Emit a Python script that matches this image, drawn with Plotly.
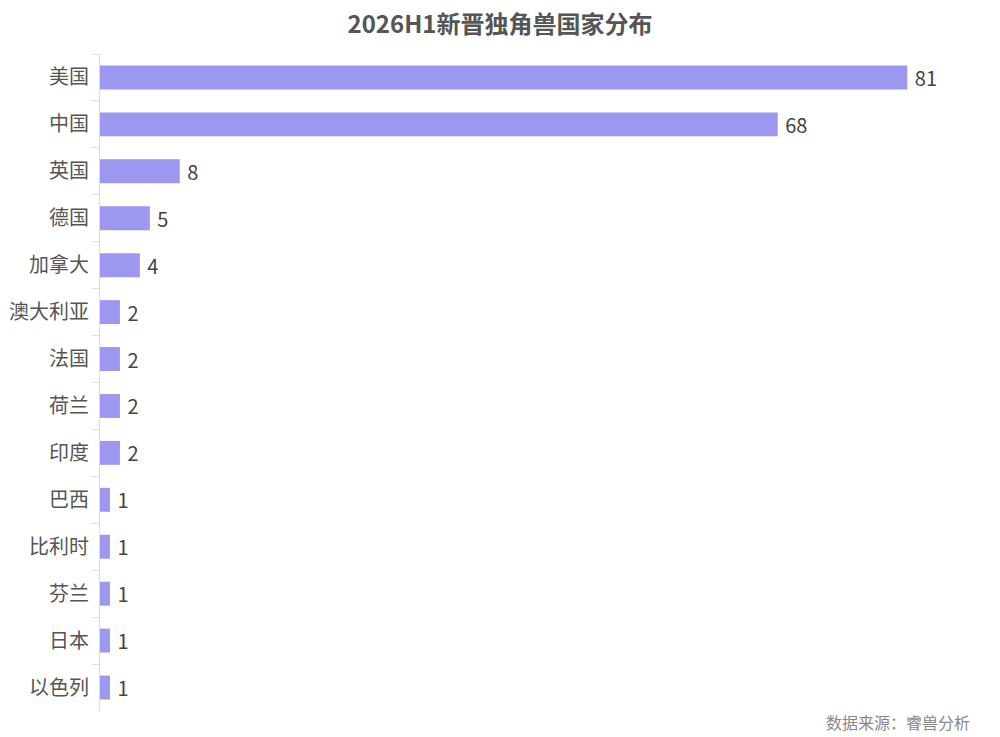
import plotly.graph_objects as go

countries = ["美国", "中国", "英国", "德国", "加拿大", "澳大利亚", "法国", "荷兰", "印度",
             "巴西", "比利时", "芬兰", "日本", "以色列"]
counts = [81, 68, 8, 5, 4, 2, 2, 2, 2, 1, 1, 1, 1, 1]

FONT = "Noto Sans CJK SC"
W, H = 992, 729  # page has an 8px body margin

fig = go.Figure(go.Bar(
    x=counts, y=countries, orientation="h",
    marker=dict(color="#9e97f0", line=dict(width=0)),
    width=0.51,
    texttemplate=" %{x}", textposition="outside", constraintext="none",
    textfont=dict(size=20, color="#444", family=FONT),
    cliponaxis=False,
))

fig.update_layout(
    width=W, height=H,
    margin=dict(l=92, r=0, t=46, b=26, autoexpand=False),
    plot_bgcolor="white", paper_bgcolor="white",
    title=dict(text="<b>2026H1新晋独角兽国家分布</b>", x=492 / W, xref="container", xanchor="center",
               y=1 - 17 / H, yref="container", yanchor="middle",
               font=dict(size=24, color="#555", family=FONT)),
    showlegend=False,
    font=dict(family=FONT),
)
fig.update_xaxes(range=[0, 90.3], visible=False)
fig.update_yaxes(autorange="reversed", showline=True, linecolor="#ddd", linewidth=1,
                 ticks="outside", ticklen=7, tickcolor="#ddd", tickson="boundaries",
                 tickfont=dict(size=20, color="#555", family=FONT), ticklabelstandoff=6,
                 showgrid=False, automargin=False)
fig.add_annotation(text="数据来源：睿兽分析", xref="paper", yref="paper", x=(964 - 92) / 900,
                   y=0, yshift=-11, xanchor="right", yanchor="middle", showarrow=False,
                   font=dict(size=16, color="#888", family=FONT))

fig.write_html("out.html")
